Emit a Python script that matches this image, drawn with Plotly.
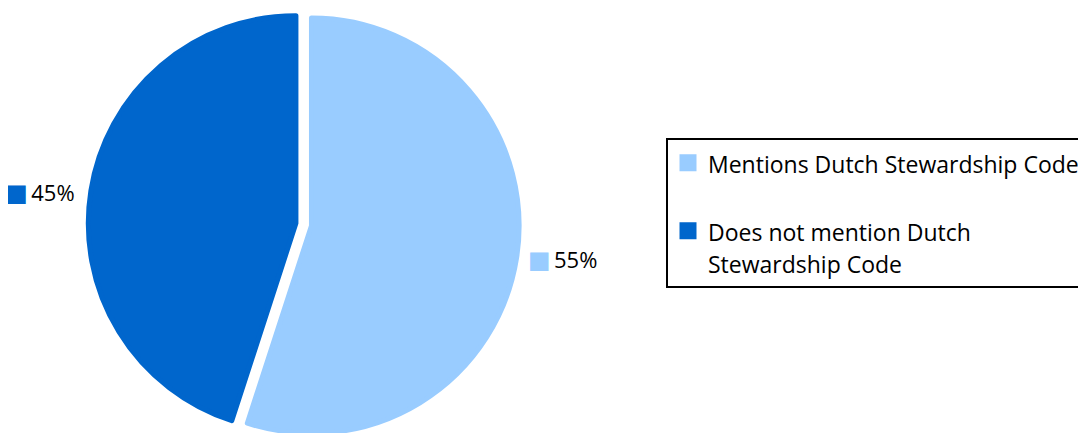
import plotly.graph_objects as go

labels = ["Mentions Dutch Stewardship Code", "Does not mention Dutch<br>Stewardship Code"]
values = [55, 45]
colors = ["#99CCFF", "#0066CC"]
pct_text = ["55%", "45%"]

GLYPH = 23
NBSP = "\u00a0"


def label_text(i, c, t):
    # the first slice sits on the right side of the pie, the second on the left
    lead = f'<span style="font-size:15px">{NBSP}</span>' if i == 0 else ""
    trail = f'<span style="font-size:27px">{NBSP}</span>' if i == 1 else ""
    return (lead + f'<span style="color:{c};font-family:DejaVu Sans;font-size:24px">■</span>'
            f'<span style="font-size:13px">{NBSP}</span>{t}' + trail)


texts = [label_text(i, c, t) for i, (c, t) in enumerate(zip(colors, pct_text))]
legend_labels = [f'<span style="font-size:{GLYPH}px">{labels[0]}</span><br> ',
                 f'<span style="font-size:{GLYPH}px">' + labels[1].replace("<br>", f'</span><br><span style="font-size:{GLYPH}px">') + '</span>']

W, H = 1086, 433
cx, half = 295.7, 215.5

fig = go.Figure(go.Pie(
    labels=legend_labels,
    values=values,
    text=texts,
    textinfo="text",
    textposition="outside",
    sort=False,
    direction="clockwise",
    rotation=0,
    pull=[0.0379, 0.0379],
    marker=dict(colors=colors, line=dict(width=5, color=colors)),
    textfont=dict(family="Open Sans", size=22, color="black"),
    showlegend=True,
    domain=dict(x=[(cx - half) / W, (cx + half) / W], y=[0, 1]),
    hoverinfo="none",
))

fig.update_layout(
    width=W, height=H,
    margin=dict(l=0, r=0, t=0, b=0, autoexpand=False),
    paper_bgcolor="white",
    plot_bgcolor="white",
    font=dict(family="Open Sans", size=22, color="black"),
    legend=dict(
        x=658 / W, y=1 - 130 / H, xanchor="left", yanchor="top",
        bordercolor="black", borderwidth=2, bgcolor="white",
        valign="top",
        font=dict(family="Open Sans", size=25, color="black"),
        traceorder="normal",
    ),
)

fig.write_html("out.html")
